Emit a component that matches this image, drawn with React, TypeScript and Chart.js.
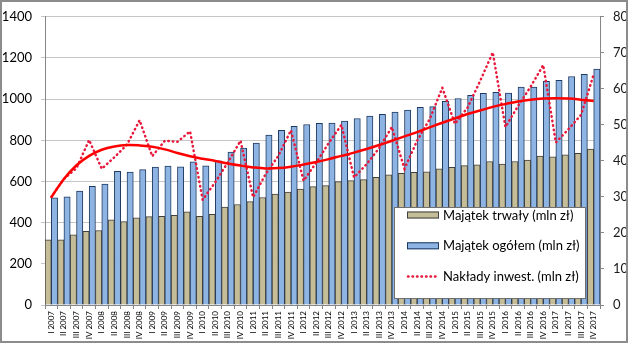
import { useEffect, useRef } from 'react';
import { Chart, registerables } from 'chart.js';

Chart.register(...registerables);

const categories = [
  'I 2007', 'II 2007', 'III 2007', 'IV 2007',
  'I 2008', 'II 2008', 'III 2008', 'IV 2008',
  'I 2009', 'II 2009', 'III 2009', 'IV 2009',
  'I 2010', 'II 2010', 'III 2010', 'IV 2010',
  'I 2011', 'II 2011', 'III 2011', 'IV 2011',
  'I 2012', 'II 2012', 'III 2012', 'IV 2012',
  'I 2013', 'II 2013', 'III 2013', 'IV 2013',
  'I 2014', 'II 2014', 'III 2014', 'IV 2014',
  'I 2015', 'II 2015', 'III 2015', 'IV 2015',
  'I 2016', 'II 2016', 'III 2016', 'IV 2016',
  'I 2017', 'II 2017', 'III 2017', 'IV 2017',
];

// Majątek trwały (mln zł) – left axis
const fixedAssets = [
  317, 317, 341, 358, 362, 414, 405, 423, 429, 431,
  435, 452, 431, 441, 476, 488, 502, 522, 539, 548,
  563, 575, 580, 599, 604, 609, 620, 632, 640, 644,
  647, 661, 669, 677, 681, 697, 685, 697, 704, 723,
  720, 729, 737, 757,
];

// Majątek ogółem (mln zł) – left axis
const totalAssets = [
  520, 526, 554, 576, 588, 649, 646, 658, 670, 675,
  671, 695, 676, 700, 743, 762, 786, 825, 849, 868,
  877, 882, 884, 893, 906, 918, 926, 937, 947, 960,
  964, 989, 1003, 1018, 1028, 1033, 1029, 1058, 1058, 1087,
  1091, 1110, 1121, 1146,
];

// Nakłady inwest. (mln zł) – right axis
const investment = [
  30, 35, 38, 45.8, 37.8, 41, 44.5, 51.3, 41.3, 45.6,
  45.3, 48.2, 29.2, 34.1, 39.6, 45.6, 29.9, 36.4, 41.4, 48.5,
  34.5, 39.5, 45, 50, 35.4, 39.1, 43.6, 49.4, 37.8, 45.6,
  51.6, 60.3, 50.3, 54.8, 62.2, 70.1, 49.4, 55.2, 60.6, 66.6,
  45.1, 48.8, 52.8, 64,
];

// Polynomial trend of investment – right axis
const investmentTrend = [
  29.9, 35.0, 38.8, 41.4, 43.1, 44.0, 44.4, 44.3, 43.9, 43.2,
  42.2, 41.3, 40.6, 40.0, 39.3, 38.7, 38.2, 37.9, 38.0, 38.4,
  39.0, 39.7, 40.5, 41.4, 42.3, 43.3, 44.4, 45.6, 46.8, 48.0,
  49.3, 50.6, 51.8, 53.0, 54.0, 55.0, 55.8, 56.5, 57.0, 57.3,
  57.4, 57.3, 57.0, 56.6,
];

const leftAxisMax = 1400;
const leftAxisStep = 200;
const rightAxisMax = 80;
const rightAxisStep = 10;

const FONT = 'Lato, "Open Sans", sans-serif';

const framePlugin = {
  id: 'frame',
  beforeDraw(chart: any) {
    const { ctx, width, height } = chart;
    ctx.save();
    ctx.fillStyle = '#ffffff';
    ctx.fillRect(0, 0, width, height);
    ctx.restore();
  },
  afterDraw(chart: any) {
    const { ctx } = chart;
    ctx.save();
    ctx.strokeStyle = '#8c8c8c';
    ctx.lineWidth = 2;
    ctx.strokeRect(1, 1, 626, 341);
    ctx.restore();
  },
};

const boxLegendPlugin = {
  id: 'boxLegend',
  afterDraw(chart: any) {
    const { ctx, chartArea } = chart;
    const w = 192;
    const h = 92;
    const x = Math.round(chartArea.right - 14 - w);
    const y = Math.round(chartArea.bottom - 6 - h);
    ctx.save();
    ctx.fillStyle = '#ffffff';
    ctx.fillRect(x, y, w, h);
    ctx.strokeStyle = '#6f6f6f';
    ctx.lineWidth = 1;
    ctx.strokeRect(x + 0.5, y + 0.5, w - 1, h - 1);

    const ds = chart.data.datasets;
    const entries = [ds[2], ds[3], ds[1]];
    entries.forEach((d: any, k: number) => {
      const cy = y + 8 + k * 30.8;
      const bx = x + 13;
      const bw = 32;
      if (d.type === 'bar') {
        ctx.fillStyle = d.backgroundColor;
        ctx.fillRect(bx, cy - 3.5, bw, 7);
        ctx.strokeStyle = d.borderColor;
        ctx.lineWidth = 1;
        ctx.strokeRect(bx + 0.5, cy - 3.5 + 0.5, bw - 1, 6);
      } else {
        ctx.strokeStyle = d.borderColor;
        ctx.lineWidth = d.borderWidth;
        ctx.lineCap = 'round';
        ctx.setLineDash(d.borderDash);
        ctx.beginPath();
        ctx.moveTo(bx + 1, cy);
        ctx.lineTo(bx + bw - 1, cy);
        ctx.stroke();
        ctx.setLineDash([]);
      }
      ctx.fillStyle = '#000000';
      ctx.font = `13px ${FONT}`;
      ctx.textBaseline = 'middle';
      ctx.textAlign = 'left';
      ctx.fillText(d.label, bx + bw + 4, cy + 0.5);
    });
    ctx.restore();
  },
};

export default function App() {
  const ref = useRef<HTMLCanvasElement>(null);

  useEffect(() => {
    document.body.style.margin = '0';
    const canvas = ref.current;
    if (!canvas) return;

    const chart = new Chart(canvas, {
      type: 'bar',
      data: {
        labels: categories,
        datasets: [
          {
            type: 'line',
            label: 'Trend',
            data: investmentTrend,
            yAxisID: 'y1',
            borderColor: '#ff0000',
            borderWidth: 2.5,
            pointRadius: 0,
            tension: 0.4,
            fill: false,
            order: 0,
          },
          {
            type: 'line',
            label: 'Nakłady inwest. (mln zł)',
            data: investment,
            yAxisID: 'y1',
            borderColor: '#e8193c',
            borderWidth: 2.5,
            borderDash: [0.5, 4],
            borderCapStyle: 'round',
            pointRadius: 0,
            tension: 0,
            fill: false,
            order: 1,
          },
          {
            type: 'bar',
            label: 'Majątek trwały (mln zł)',
            data: fixedAssets,
            yAxisID: 'y',
            backgroundColor: '#c4bd97',
            borderColor: '#3f3f3f',
            borderWidth: 1,
            categoryPercentage: 1,
            barPercentage: 1,
            order: 2,
          },
          {
            type: 'bar',
            label: 'Majątek ogółem (mln zł)',
            data: totalAssets,
            yAxisID: 'y',
            backgroundColor: '#8eb4e3',
            borderColor: '#1f3a60',
            borderWidth: 1,
            categoryPercentage: 1,
            barPercentage: 1,
            order: 3,
          },
        ] as any,
      },
      options: {
        responsive: false,
        animation: false,
        devicePixelRatio: 1,
        layout: { padding: { top: 15, left: 0, right: 0, bottom: 0 } },
        plugins: {
          legend: { display: false },
          tooltip: { enabled: false },
        },
        scales: {
          x: {
            type: 'category',
            offset: true,
            grid: {
              display: true,
              offset: true,
              drawOnChartArea: false,
              drawTicks: true,
              tickLength: 4,
              color: '#868686',
            },
            border: { display: true, color: '#868686', width: 1 },
            ticks: {
              autoSkip: false,
              maxRotation: 90,
              minRotation: 90,
              padding: 2,
              color: '#000000',
              font: { family: FONT, size: 8 },
            },
            afterFit: (s: any) => {
              s.height = 43;
            },
          },
          y: {
            position: 'left',
            min: 0,
            max: leftAxisMax,
            ticks: {
              stepSize: leftAxisStep,
              padding: 9,
              color: '#000000',
              font: { family: FONT, size: 13 },
              callback: (v: any) => String(v),
            },
            grid: {
              color: '#c6c6c6',
              lineWidth: 1,
              tickLength: 4,
              drawTicks: true,
            },
            border: { display: true, color: '#868686', width: 1 },
            afterFit: (s: any) => {
              s.width = 45;
            },
          },
          y1: {
            position: 'right',
            min: 0,
            max: rightAxisMax,
            ticks: {
              stepSize: rightAxisStep,
              padding: 9,
              color: '#1a1a1a',
              font: { family: FONT, size: 13 },
              callback: (v: any) => String(v),
            },
            grid: {
              drawOnChartArea: false,
              drawTicks: true,
              tickLength: 4,
              color: '#868686',
            },
            border: { display: true, color: '#868686', width: 1 },
            afterFit: (s: any) => {
              s.width = 30;
            },
          },
        },
      } as any,
      plugins: [framePlugin, boxLegendPlugin],
    });

    return () => chart.destroy();
  }, []);

  return (
    <div style={{ width: 630, height: 348 }}>
      <canvas ref={ref} width={630} height={348} style={{ display: 'block' }} />
    </div>
  );
}
